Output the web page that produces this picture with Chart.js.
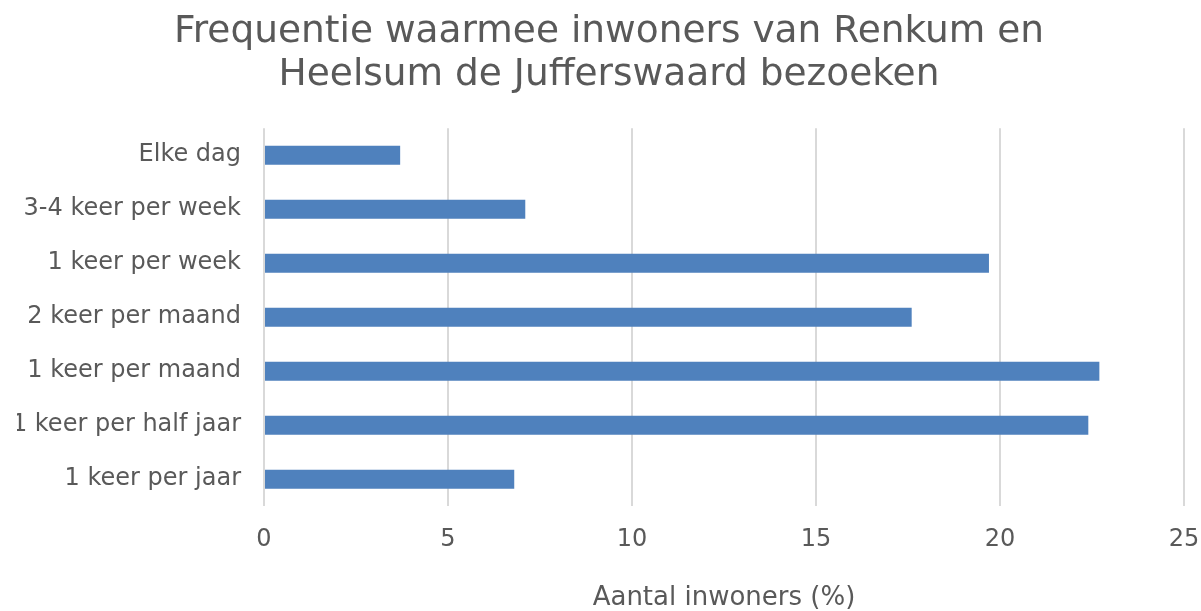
<!DOCTYPE html>
<html>
<head>
<meta charset="utf-8">
<script src="https://cdn.jsdelivr.net/npm/chart.js@4"></script>
<style>
  html, body { margin: 0; padding: 0; background: #fff; }
  #wrap { width: 1201px; height: 611px; }
</style>
</head>
<body>
<div id="wrap"><canvas id="freqChart" width="1201" height="611"></canvas></div>
<script>
// data
const categories = [
    'Elke dag',
    '3-4 keer per week',
    '1 keer per week',
    '2 keer per maand',
    '1 keer per maand',
    '1 keer per half jaar',
    '1 keer per jaar'
];
const percentages = [3.7, 7.1, 19.7, 17.6, 22.7, 22.4, 6.8];
const xTicks = [0, 5, 10, 15, 20, 25];
const titleLines = ['Frequentie waarmee inwoners van Renkum en', 'Heelsum de Jufferswaard bezoeken'];
const xTitle = 'Aantal inwoners (%)';

const textColor = '#595959';
const fontFamily = '"DejaVu Sans", Verdana, sans-serif';

const ctx = document.getElementById('freqChart').getContext('2d');
new Chart(ctx, {
    type: 'bar',
    data: {
        labels: categories,
        datasets: [{
            label: 'Aantal inwoners',
            data: percentages,
            backgroundColor: '#4F81BD',
            borderWidth: 0,
            barPercentage: 0.7,
            categoryPercentage: 0.5
        }]
    },
    options: {
        indexAxis: 'y',
        responsive: false,
        animation: false,
        layout: {
            padding: { left: 17, right: 0, top: 11, bottom: 0 }
        },
        plugins: {
            legend: { display: false },
            tooltip: { enabled: false },
            title: {
                display: true,
                text: titleLines,
                color: textColor,
                font: { family: fontFamily, size: 37.5, weight: 'normal', lineHeight: 1.15 },
                padding: { top: 0, bottom: 31 }
            }
        },
        scales: {
            x: {
                min: xTicks[0],
                max: xTicks[xTicks.length - 1],
                afterBuildTicks: (scale) => {
                    scale.ticks = xTicks.map(v => ({ value: v }));
                },
                // keep a fixed right margin, the "25" label hangs into it
                afterFit: (scale) => { scale.paddingRight = 17; },
                grid: {
                    color: '#d9d9d9',
                    lineWidth: 2,
                    drawTicks: false
                },
                border: { display: false },
                ticks: {
                    color: textColor,
                    font: { family: fontFamily, size: 24 },
                    padding: 19
                },
                title: {
                    display: true,
                    text: xTitle,
                    color: textColor,
                    font: { family: fontFamily, size: 26, lineHeight: 1.0 },
                    padding: { top: 12, bottom: 0 }
                }
            },
            y: {
                afterFit: (scale) => { scale.width = 247; },
                grid: { display: false, drawTicks: false },
                border: { display: false },
                ticks: {
                    color: textColor,
                    font: { family: fontFamily, size: 24 },
                    padding: 23
                }
            }
        }
    }
});
</script>
</body>
</html>
